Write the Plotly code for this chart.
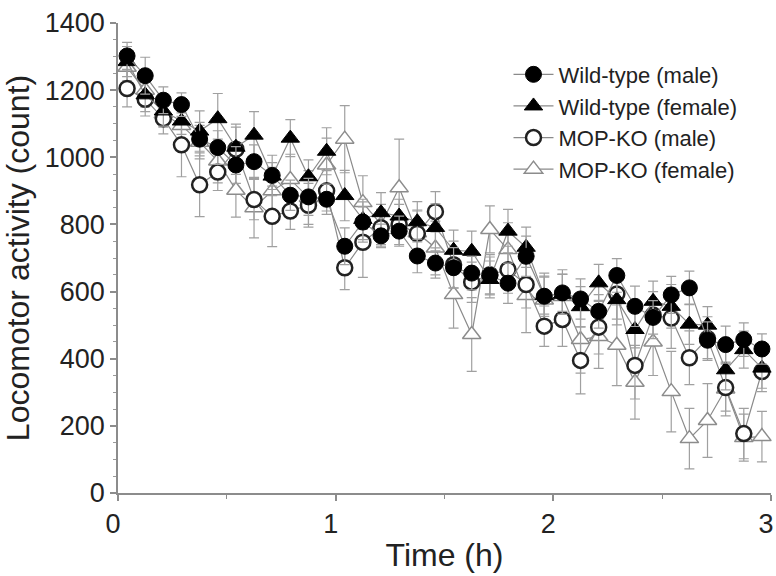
import plotly.graph_objects as go

# Time bins (midpoints, minutes)
time_min = [2.5, 7.5, 12.5, 17.5, 22.5, 27.5, 32.5, 37.5, 42.5, 47.5, 52.5, 57.5,
            62.5, 67.5, 72.5, 77.5, 82.5, 87.5, 92.5, 97.5, 102.5, 107.5, 112.5, 117.5,
            122.5, 127.5, 132.5, 137.5, 142.5, 147.5, 152.5, 157.5, 162.5, 167.5, 172.5, 177.5]
time_h = [m / 60 for m in time_min]

wt_male = [1302, 1243, 1170, 1157, 1054, 1029, 977, 987, 946, 887, 882, 875,
           735, 807, 766, 780, 706, 685, 671, 655, 648, 625, 705, 586,
           596, 578, 541, 648, 556, 523, 590, 611, 455, 442, 457, 429]
wt_male_err = [40, 55, 40, 35, 50, 50, 55, 50, 60, 45, 55, 45,
               55, 60, 35, 45, 50, 45, 60, 50, 55, 60, 60, 60,
               55, 60, 50, 50, 60, 50, 55, 50, 55, 55, 50, 45]

wt_female = [1285, 1186, 1138, 1108, 1078, 1115, 1030, 1066, 944, 1057, 942, 1018,
             886, 815, 835, 825, 808, 791, 723, 720, 636, 780, 732, 588,
             592, 555, 626, 576, 487, 571, 556, 503, 500, 367, 427, 372]
wt_female_err = [45, 50, 45, 40, 60, 75, 60, 70, 40, 55, 50, 70,
                 75, 60, 60, 50, 60, 70, 60, 60, 55, 65, 60, 55,
                 60, 60, 55, 75, 55, 60, 65, 60, 55, 60, 55, 60]

ko_male = [1205, 1173, 1115, 1037, 918, 956, 1024, 874, 824, 840, 857, 900,
           671, 747, 790, 800, 773, 838, 680, 628, 650, 665, 621, 497,
           517, 395, 494, 593, 380, 530, 521, 403, 460, 314, 177, 362]
ko_male_err = [55, 50, 45, 95, 95, 55, 75, 60, 90, 55, 65, 60,
               65, 105, 55, 60, 70, 60, 70, 60, 60, 70, 70, 60,
               80, 100, 80, 75, 100, 70, 90, 80, 65, 70, 75, 60]

ko_female = [1268, 1200, 1130, 1095, 1045, 989, 902, 850, 900, 934, 880, 977,
             1054, 865, 800, 909, 775, 730, 591, 472, 785, 725, 588, 575,
             585, 457, 466, 440, 330, 450, 302, 162, 216, 310, 165, 168]
ko_female_err = [40, 50, 40, 45, 50, 65, 80, 90, 70, 75, 80, 80,
                 100, 80, 60, 145, 65, 80, 100, 110, 70, 80, 110, 80,
                 80, 100, 95, 120, 110, 100, 120, 90, 110, 80, 70, 75]

series_names = ["Wild-type (male)", "Wild-type (female)", "MOP-KO (male)", "MOP-KO (female)"]

FONT = "Arial, Liberation Sans, sans-serif"
TXT = "#222222"
LINE_C = "#8a8a8a"
ERR_C = "#a0a0a0"
AX_C = "#8c8c8c"

fig = go.Figure()

def add(name, y, err, symbol, fill, edge, edge_w, size, rank):
    fig.add_trace(go.Scatter(
        x=time_h, y=y, name=name, mode="lines+markers",
        line=dict(color=LINE_C, width=1.2),
        marker=dict(symbol=symbol, size=size, color=fill,
                    line=dict(color=edge, width=edge_w)),
        error_y=dict(type="data", array=err, visible=True,
                     color=ERR_C, thickness=1.2, width=5),
        legendrank=rank, cliponaxis=False,
    ))

# draw order: back to front
add(series_names[3], ko_female, ko_female_err, "triangle-up", "white", "#8c8c8c", 1.5, 16, 4)
add(series_names[2], ko_male, ko_male_err, "circle", "white", "#222222", 2.5, 15, 3)
add(series_names[1], wt_female, wt_female_err, "triangle-up", "black", "black", 1, 16, 2)
add(series_names[0], wt_male, wt_male_err, "circle", "black", "black", 1, 16, 1)

fig.update_layout(
    width=776, height=576,
    margin=dict(l=118, r=5, t=23, b=83),
    paper_bgcolor="white", plot_bgcolor="white",
    font=dict(family=FONT, color=TXT),
    showlegend=True,
    legend=dict(x=0.598, y=0.935, xanchor="left", yanchor="top",
                bgcolor="rgba(0,0,0,0)", font=dict(size=22, color=TXT),
                itemwidth=40, tracegroupgap=0),
)

fig.update_xaxes(
    range=[0, 3], tickvals=[0, 1, 2, 3], ticktext=["0", "1", "2", "3"],
    automargin=False, ticklabeloverflow="allow", ticklabelshift=-5,
    showgrid=False, zeroline=False,
    showline=True, linecolor=AX_C, linewidth=1.5,
    ticks="outside", ticklen=6, tickcolor=AX_C, tickwidth=1.5,
    tickfont=dict(size=27, family=FONT, color=TXT),
    ticklabelstandoff=0,
    minor=dict(tickvals=[0.5, 1.5, 2.5], ticks="outside", ticklen=4,
               tickcolor=AX_C, tickwidth=1.2),
    title=dict(text="Time (h)", font=dict(size=32, family=FONT, color=TXT), standoff=5),
)

fig.update_yaxes(
    range=[0, 1400], tickvals=[0, 200, 400, 600, 800, 1000, 1200, 1400],
    automargin=False,
    showgrid=False, zeroline=False,
    showline=True, linecolor=AX_C, linewidth=1.5,
    ticks="outside", ticklen=6, tickcolor=AX_C, tickwidth=1.5,
    tickfont=dict(size=27, family=FONT, color=TXT),
    minor=dict(dtick=50, ticks="outside", ticklen=3, tickcolor="#9a9a9a", tickwidth=1),
    title=dict(text="Locomotor activity (count)", font=dict(size=32, family=FONT, color=TXT), standoff=10),
)

fig.write_html(
    "out.html",
    config={"displayModeBar": False},
    post_script="document.body.style.margin='0';document.body.style.overflow='hidden';",
)
